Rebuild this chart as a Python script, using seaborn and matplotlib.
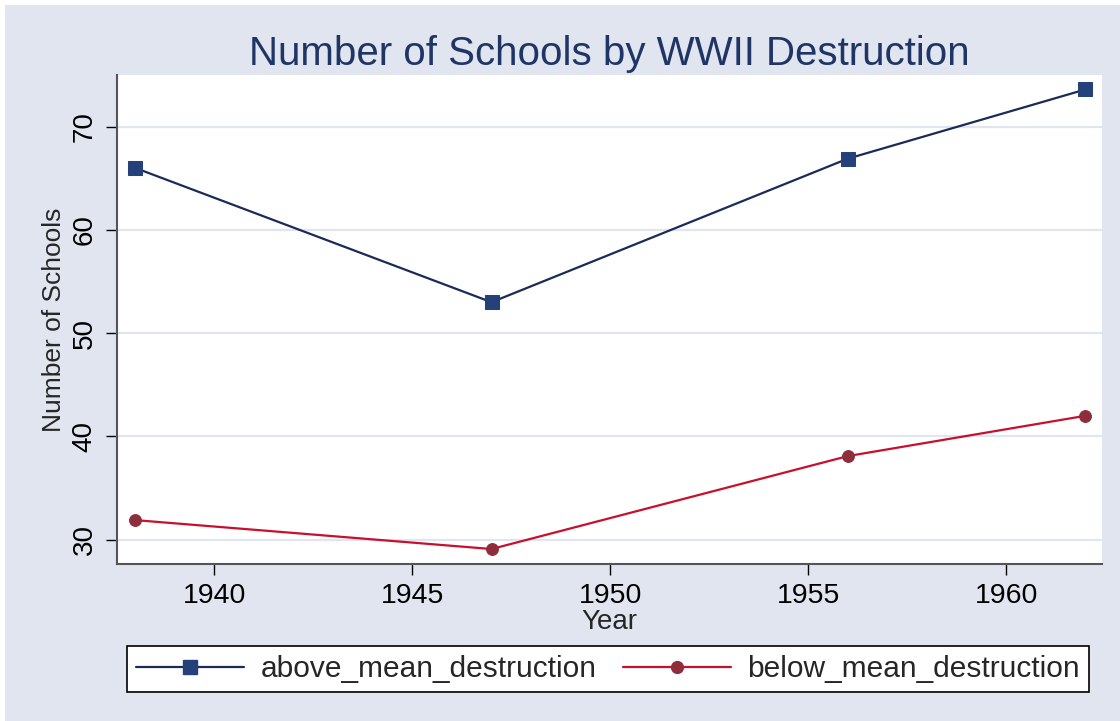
import pandas as pd
import matplotlib
matplotlib.use('Agg')
import matplotlib.pyplot as plt
from matplotlib.patches import Rectangle
import seaborn as sns

# data
years = [1938, 1947, 1956, 1962]
above_mean = [66.0, 53.0, 66.9, 73.6]
below_mean = [31.9, 29.1, 38.1, 42.0]
series_names = ['above_mean_destruction', 'below_mean_destruction']
x_ticks = [1940, 1945, 1950, 1955, 1960]
y_ticks = [30, 40, 50, 60, 70]

df = pd.DataFrame({
    'Year': years * 2,
    'schools': above_mean + below_mean,
    'group': [series_names[0]] * len(years) + [series_names[1]] * len(years),
})

sns.set_theme(style='white')
plt.rcParams['font.family'] = ['Liberation Sans', 'DejaVu Sans']

BG = '#e0e5ef'
NAVY_LINE = '#1b2b58'
NAVY_MARK = '#24417a'
RED_LINE = '#c8102e'
RED_MARK = '#8e2d3b'

fig = plt.figure(figsize=(11.2, 7.21), dpi=100, facecolor='white')
fig.patches.append(Rectangle((5 / 1120, 0), 1, (721 - 5) / 721,
                             transform=fig.transFigure, facecolor=BG,
                             edgecolor='none', zorder=-10))
# clipped caption fragment at the very top
fig.text(33 / 1120, 1 + 10 / 721, 'g', fontsize=20, color='black', va='baseline')

ax = fig.add_axes([117 / 1120, (721 - 564) / 721, (1102 - 117) / 1120, (564 - 75) / 721])
ax.set_facecolor('white')

sns.lineplot(data=df, x='Year', y='schools', hue='group', style='group',
             palette={series_names[0]: NAVY_LINE, series_names[1]: RED_LINE},
             markers={series_names[0]: 's', series_names[1]: 'o'},
             dashes=False, linewidth=1.6, ax=ax, legend=False, zorder=3)

# recolor marker faces like the original
for line in ax.get_lines():
    if line.get_color() == NAVY_LINE:
        line.set_markerfacecolor(NAVY_MARK)
        line.set_markeredgecolor(NAVY_MARK)
        line.set_markersize(10)
    else:
        line.set_markerfacecolor(RED_MARK)
        line.set_markeredgecolor(RED_MARK)
        line.set_markersize(8.5)

ax.set_xlim(1937.54, 1962.42)
ax.set_ylim(27.65, 75.0)
ax.set_xticks(x_ticks)
ax.set_yticks(y_ticks)
ax.grid(axis='y', color=BG, linewidth=1.6)
ax.set_axisbelow(True)

for side in ['top', 'right']:
    ax.spines[side].set_visible(False)
for side in ['left', 'bottom']:
    ax.spines[side].set_color('#555555')
    ax.spines[side].set_linewidth(1.5)

ax.tick_params(axis='both', which='major', direction='out', length=8,
               width=1, color='black', labelcolor='black',
               bottom=True, left=True, top=False, right=False)
ax.tick_params(axis='x', pad=6, labelsize=20.5)
ax.tick_params(axis='y', pad=6, labelsize=20)
for lbl in ax.get_yticklabels():
    lbl.set_rotation(90)
    lbl.set_va('center')

ax.set_xlabel('Year', fontsize=20, labelpad=0)
ax.set_ylabel('Number of Schools', fontsize=19, labelpad=4)
ax.set_title('Number of Schools by WWII Destruction', fontsize=29,
             color='#1f3566', pad=7)

handles = [
    plt.Line2D([], [], color=NAVY_LINE, linewidth=1.6, marker='s',
               markersize=10, markerfacecolor=NAVY_MARK, markeredgecolor=NAVY_MARK),
    plt.Line2D([], [], color=RED_LINE, linewidth=1.6, marker='o',
               markersize=8.5, markerfacecolor=RED_MARK, markeredgecolor=RED_MARK),
]
leg = fig.legend(handles, series_names, loc='center', ncol=2,
                 bbox_to_anchor=(608 / 1120, (721 - 669) / 721),
                 fontsize=21.5, frameon=True, fancybox=False, handlelength=3.6,
                 handletextpad=0.55, columnspacing=0.9, borderpad=0.3,
                 borderaxespad=0)
leg.get_frame().set_edgecolor('black')
leg.get_frame().set_linewidth(1.2)
leg.get_frame().set_facecolor('white')
leg.get_frame().set_alpha(1)

fig.savefig('out.png', dpi=100, facecolor=fig.get_facecolor())
